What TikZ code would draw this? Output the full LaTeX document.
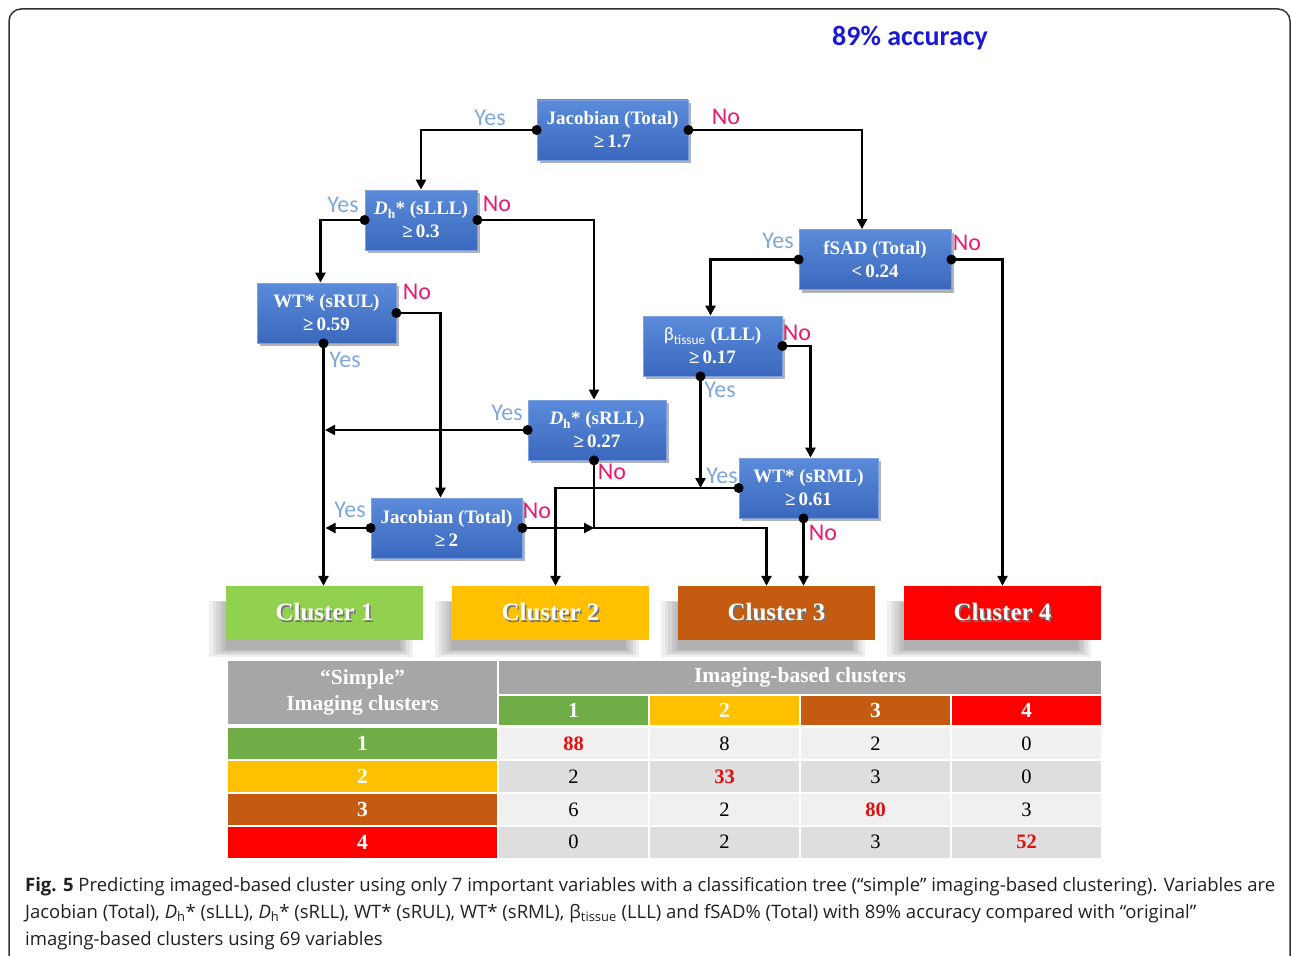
\documentclass[tikz,border=0pt]{standalone}
\usepackage{fontspec}
\setmainfont{Liberation Serif}
\newfontfamily\calib{Carlito}
\newfontfamily\capfont{Open Sans}
\usetikzlibrary{arrows.meta,shadows}
\definecolor{boxtop}{HTML}{5B8BDA}
\definecolor{boxbot}{HTML}{3A68BE}
\definecolor{boxedge}{HTML}{7EA1DE}
\definecolor{clgreen}{HTML}{92D050}
\definecolor{clyellow}{HTML}{FFC000}
\definecolor{clorange}{HTML}{C55A11}
\definecolor{clred}{HTML}{FF0000}
\definecolor{tgreen}{HTML}{70AD47}
\definecolor{tgray}{HTML}{A6A6A6}
\definecolor{tlight}{HTML}{F0F0F0}
\definecolor{tdark}{HTML}{DEDEDE}
\definecolor{tred}{HTML}{E01010}
\definecolor{yesblue}{HTML}{7FA8DA}
\definecolor{nopink}{HTML}{E8196E}
\definecolor{accblue}{HTML}{1A1AD6}
\definecolor{framecol}{HTML}{333333}
\definecolor{captext}{HTML}{231F20}
\newcommand{\shtext}[1]{\makebox[0pt][l]{\hspace{1.5pt}\raisebox{-1.5pt}{\textcolor{black!55}{#1}}}#1}
\newcommand{\Dh}{\textit{D}\textsubscript{h}*}
\tikzset{decision/.style = {rectangle, draw=boxedge, line width=0.8pt, top color=boxtop, bottom color=boxbot,
           text=white, font=\bfseries\fontsize{19}{23}\selectfont, align=center, minimum height=60pt, inner sep=2pt,
           drop shadow={shadow xshift=3pt, shadow yshift=-3pt, opacity=0.3, fill=black}},
         softshadow/.style = {general shadow={shadow xshift=-13pt, shadow yshift=-15pt, shadow scale=#1, fill=black, opacity=0.06}},
         cluster/.style = {rectangle, minimum width=197pt, minimum height=54pt, text=white,
           font=\bfseries\fontsize{25}{30}\selectfont,
           softshadow=1.04, softshadow=1.0, softshadow=0.97, softshadow=0.94, softshadow=0.91, softshadow=0.88},
         link/.style = {line width=2.8pt, -{Triangle[length=10pt,width=10pt]}},
         yeslbl/.style = {font=\calib\fontsize{24}{26}\selectfont, text=yesblue, inner sep=0pt},
         nolbl/.style = {font=\calib\fontsize{24}{26}\selectfont, text=nopink, inner sep=0pt},
         tcell/.style = {rectangle, inner sep=0pt, minimum width=149pt, minimum height=31pt, font=\fontsize{20.5}{24}\selectfont},
         hcell/.style = {tcell, text=white, font=\bfseries\fontsize{21.5}{26}\selectfont},
         capline/.style = {anchor=base west, inner sep=0pt, text=captext, font=\capfont\fontsize{18.5}{21}\selectfont}}

\begin{document}
\begin{tikzpicture}[x=1pt, y=-1pt]
    \useasboundingbox (0,0) rectangle (1292,955);
    \clip (0,0) rectangle (1292,955);
    \draw[framecol, line width=1.5pt, rounded corners=12pt] (9,9) rectangle (1290,990);

    \node[font=\calib\bfseries\fontsize{28}{32}\selectfont, text=accblue] (acc) at (910,38) {89\% accuracy};

    % decision boxes
    \node[decision, minimum width=151pt] (J1) at (612.5,130) {Jacobian (Total)\\ ≥\,1.7};
    \node[decision, minimum width=112pt] (D1) at (421,220) {\Dh{} (sLLL)\\ ≥\,0.3};
    \node[decision, minimum width=139pt] (W1) at (326.5,313) {WT* (sRUL)\\ ≥\,0.59};
    \node[decision, minimum width=152pt] (S1) at (875,259.5) {fSAD (Total)\\ <\,0.24};
    \node[decision, minimum width=139pt] (B1) at (712.5,346) {{\calib\mdseries β\textsubscript{tissue}} (LLL)\\ ≥\,0.17};
    \node[decision, minimum width=138pt] (D2) at (597,430) {\Dh{} (sRLL)\\ ≥\,0.27};
    \node[decision, minimum width=151pt] (J2) at (446.5,528) {Jacobian (Total)\\ ≥\,2};
    \node[decision, minimum width=139pt] (W2) at (808.5,488) {WT* (sRML)\\ ≥\,0.61};

    % clusters
    \node[cluster, fill=clgreen] (C1) at (324.5,613) {\shtext{Cluster 1}};
    \node[cluster, fill=clyellow] (C2) at (550.5,613) {\shtext{Cluster 2}};
    \node[cluster, fill=clorange] (C3) at (776.5,613) {\shtext{Cluster 3}};
    \node[cluster, fill=clred] (C4) at (1002.5,613) {\shtext{Cluster 4}};

    \coordinate (w1s) at ([xshift=-3pt]W1.south);
    \coordinate (b1s) at ([xshift=-12pt]B1.south);
    \coordinate (d2s) at ([xshift=-3pt]D2.south);
    \coordinate (w2s) at ([xshift=-5pt]W2.south);
    \coordinate (c3a) at ([xshift=-10pt]C3.north);

    \draw[link] (J1.west) -| (D1.north);
    \draw[link] (J1.east) -| ([xshift=-13pt]S1.north);
    \draw[link] (D1.west) -| ([xshift=-6pt]W1.north);
    \draw[link] (D1.east) -| ([xshift=-3pt]D2.north);
    \draw[link] (w1s) -- (w1s |- C1.north);
    \draw[link] (W1.east) -| ([xshift=-6pt]J2.north);
    \draw[link] (S1.west) -| ([xshift=-2pt]B1.north);
    \draw[link] (S1.east) -| (C4.north);
    \draw[link] (b1s) -- (b1s |- W2.west);
    \draw[link] (B1.east) -| ([xshift=2pt]W2.north);
    \draw[link] (D2.west) -- ([xshift=1.5pt]w1s |- D2.west);
    \draw[link] (d2s) |- (c3a |- J2.east) -- (c3a);
    \draw[link] (J2.east) -- (d2s |- J2.east);
    \draw[link] (J2.west) -- ([xshift=2pt]w1s |- J2.west);
    \draw[link] (W2.west) -| ([xshift=5pt]C2.north);
    \draw[link] (w2s) -- (w2s |- C3.north);

    \fill (J1.west) circle (5pt) (J1.east) circle (5pt) (D1.west) circle (5pt) (D1.east) circle (5pt)
          (w1s) circle (5pt) (W1.east) circle (5pt) (S1.west) circle (5pt) (S1.east) circle (5pt)
          (b1s) circle (5pt) (B1.east) circle (5pt) (D2.west) circle (5pt) (d2s) circle (5pt)
          (J2.west) circle (5pt) (J2.east) circle (5pt) (W2.west) circle (5pt) (w2s) circle (5pt);

    % yes / no labels
    \node[yeslbl] at (490,118) {Yes};
    \node[nolbl] at (726,117) {No};
    \node[yeslbl] at (343,205) {Yes};
    \node[nolbl] at (497,204) {No};
    \node[nolbl] at (417,292) {No};
    \node[yeslbl] at (345,360) {Yes};
    \node[yeslbl] at (778,241) {Yes};
    \node[nolbl] at (967,243) {No};
    \node[nolbl] at (797,333) {No};
    \node[yeslbl] at (720,390) {Yes};
    \node[yeslbl] at (507,413) {Yes};
    \node[nolbl] at (612,472) {No};
    \node[yeslbl] at (350,510) {Yes};
    \node[nolbl] at (537,511) {No};
    \node[yeslbl] at (722,476) {Yes};
    \node[nolbl] at (823,533) {No};

    % table
    \node[hcell, fill=tgray, minimum width=269pt, minimum height=63pt, align=center] (T0) at (362.5,692.5) {“Simple”\\ Imaging clusters};
    \node[hcell, fill=tgray, minimum width=602pt, minimum height=33pt] (TH) at (800,677.5) {Imaging-based clusters};
    \node[hcell, fill=tgreen, minimum height=29pt] (K1) at (573.5,710.5) {1};
    \node[hcell, fill=clyellow, minimum height=29pt] (K2) at (724.5,710.5) {2};
    \node[hcell, fill=clorange, minimum height=29pt] (K3) at (875.5,710.5) {3};
    \node[hcell, fill=clred, minimum height=29pt] (K4) at (1026.5,710.5) {4};

    \node[hcell, fill=tgreen, minimum width=269pt] (R1) at (362.5,743.5) {1};
    \node[hcell, fill=clyellow, minimum width=269pt] (R2) at (362.5,776.5) {2};
    \node[hcell, fill=clorange, minimum width=269pt] (R3) at (362.5,809.5) {3};
    \node[hcell, fill=clred, minimum width=269pt] (R4) at (362.5,842) {4};

    \node[tcell, fill=tlight] (V11) at (573.5,743.5) {\textcolor{tred}{\bfseries 88}};
    \node[tcell, fill=tlight] (V12) at (724.5,743.5) {8};
    \node[tcell, fill=tlight] (V13) at (875.5,743.5) {2};
    \node[tcell, fill=tlight] (V14) at (1026.5,743.5) {0};

    \node[tcell, fill=tdark] (V21) at (573.5,776.5) {2};
    \node[tcell, fill=tdark] (V22) at (724.5,776.5) {\textcolor{tred}{\bfseries 33}};
    \node[tcell, fill=tdark] (V23) at (875.5,776.5) {3};
    \node[tcell, fill=tdark] (V24) at (1026.5,776.5) {0};

    \node[tcell, fill=tlight] (V31) at (573.5,809.5) {6};
    \node[tcell, fill=tlight] (V32) at (724.5,809.5) {2};
    \node[tcell, fill=tlight] (V33) at (875.5,809.5) {\textcolor{tred}{\bfseries 80}};
    \node[tcell, fill=tlight] (V34) at (1026.5,809.5) {3};

    \node[tcell, fill=tdark] (V41) at (573.5,842) {0};
    \node[tcell, fill=tdark] (V42) at (724.5,842) {2};
    \node[tcell, fill=tdark] (V43) at (875.5,842) {3};
    \node[tcell, fill=tdark] (V44) at (1026.5,842) {\textcolor{tred}{\bfseries 52}};

    % caption
    \node[capline] (cap1) at (25,891) {\textbf{Fig. 5} Predicting imaged-based cluster using only 7 important variables with a classification tree (“simple” imaging-based clustering). Variables are};
    \node[capline] (cap2) at (25,918) {Jacobian (Total), \textit{D}\textsubscript{h}* (sLLL), \textit{D}\textsubscript{h}* (sRLL), WT* (sRUL), WT* (sRML), β\textsubscript{tissue} (LLL) and fSAD\% (Total) with 89\% accuracy compared with “original”};
    \node[capline] (cap3) at (25,945) {imaging-based clusters using 69 variables};
\end{tikzpicture}
\end{document}
